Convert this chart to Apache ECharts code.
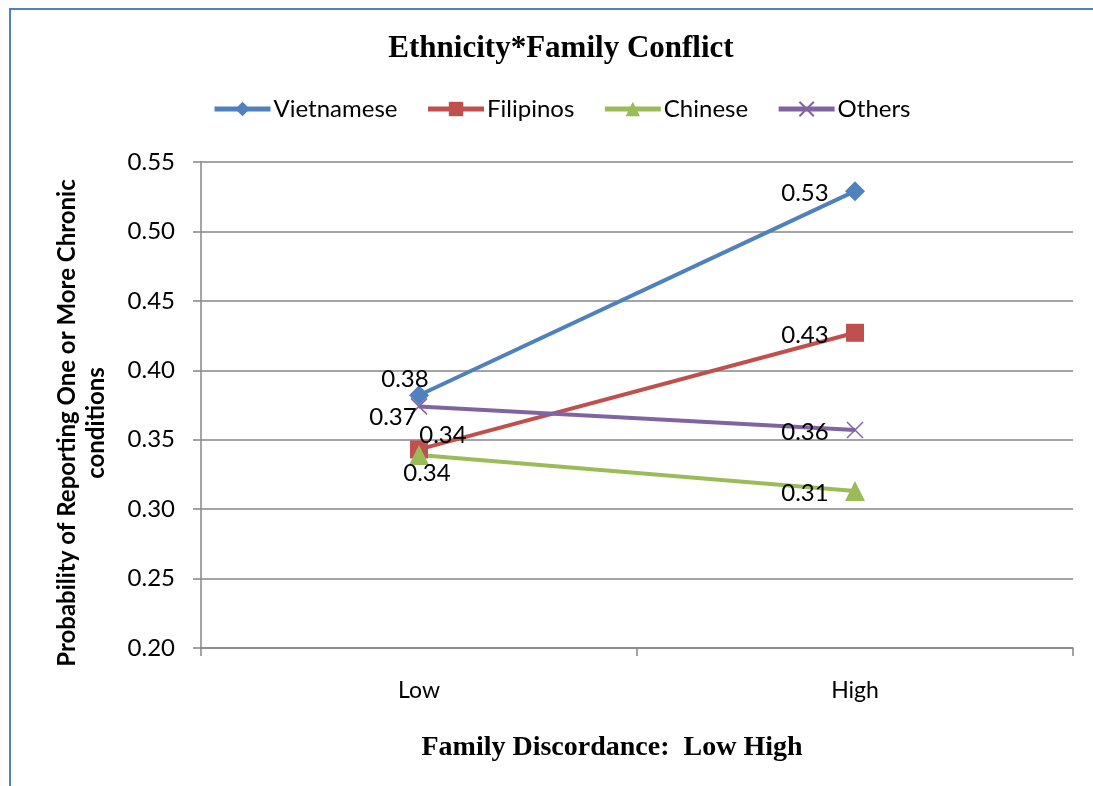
<!DOCTYPE html>
<html>
<head>
<meta charset="utf-8">
<script src="https://cdn.jsdelivr.net/npm/echarts@6/dist/echarts.min.js"></script>
<style>
  html, body { margin: 0; padding: 0; background: #fff; }
  #frame { position: absolute; left: 9px; top: 8px; width: 1200px; height: 900px; border-left: 2px solid #4F81BD; border-top: 2px solid #4F81BD; }
  #chart { position: absolute; left: 0; top: 0; width: 1093px; height: 786px; }
</style>
</head>
<body>
<div id="frame"></div>
<div id="chart"></div>
<script>
// Categories and series values
const categories = ['Low', 'High'];
const vietnamese = [0.382, 0.529];
const filipinos  = [0.343, 0.427];
const chinese    = [0.339, 0.313];
const others     = [0.374, 0.357];
const yTicks = { min: 0.20, max: 0.55, interval: 0.05 };

// Label offsets (px) from each point, per series
const labelOffsets = {
  Vietnamese: [[-14, -16], [-50, 2]],
  Filipinos:  [[24, -14],  [-50, 2]],
  Chinese:    [[8, 18],    [-50, 2]],
  Others:     [[-26, 11],  [-50, 2]]
};

const font = 'Lato, "Open Sans", sans-serif';

function pts(name, vals) {
  return vals.map((v, i) => ({
    value: v,
    label: { offset: labelOffsets[name][i] }
  }));
}

function series(name, vals, color, symbol, size, extra) {
  return Object.assign({
    name: name,
    type: 'line',
    data: pts(name, vals),
    symbol: symbol,
    symbolSize: size,
    lineStyle: { color: color, width: 4 },
    itemStyle: { color: color },
    label: {
      show: true,
      position: 'inside',
      color: '#000',
      fontFamily: font,
      fontSize: 24,
      formatter: p => p.value.toFixed(2)
    },
    z: 3
  }, extra || {});
}

const chart = echarts.init(document.getElementById('chart'));
chart.setOption({
  animation: false,
  title: [
    {
      text: 'Ethnicity*Family Conflict',
      left: 556, top: 28, textAlign: 'center',
      textStyle: { fontFamily: '"Liberation Serif", serif', fontWeight: 'bold', fontSize: 31, color: '#000' }
    },
    {
      text: 'Family Discordance:  Low High',
      left: 607, top: 729, textAlign: 'center',
      textStyle: { fontFamily: '"Liberation Serif", serif', fontWeight: 'bold', fontSize: 28, color: '#000' }
    }
  ],
  legend: {
    left: 207, top: 92,
    itemWidth: 56, itemHeight: 18, itemGap: 28,
    lineStyle: { width: 5 },
    textStyle: { fontFamily: font, fontSize: 24, color: '#000', padding: [0, 0, 0, -2] },
    data: ['Vietnamese', 'Filipinos', 'Chinese', 'Others']
  },
  grid: { left: 201, right: 20, top: 162, bottom: 138, containLabel: false },
  xAxis: {
    type: 'category',
    data: categories,
    boundaryGap: true,
    axisLine: { lineStyle: { color: '#868686', width: 1.5 } },
    axisTick: { show: true, length: 8, lineStyle: { color: '#868686', width: 1.5 } },
    axisLabel: { color: '#000', fontFamily: font, fontSize: 23, margin: 31 }
  },
  yAxis: {
    type: 'value',
    min: yTicks.min, max: yTicks.max, interval: yTicks.interval,
    name: 'Probability of Reporting One or More Chronic\nconditions',
    nameLocation: 'middle',
    nameGap: 90,
    nameTextStyle: { fontFamily: font, fontWeight: 'bold', fontSize: 24, color: '#000', lineHeight: 29, padding: [0, 36, 0, 0] },
    axisLine: { show: true, lineStyle: { color: '#868686', width: 1.5 } },
    axisTick: { show: true, length: 8, lineStyle: { color: '#868686', width: 1.5 } },
    splitLine: { lineStyle: { color: '#868686', width: 1.5 } },
    axisLabel: { color: '#000', fontFamily: font, fontSize: 24, margin: 26, formatter: v => v.toFixed(2) }
  },
  series: [
    series('Vietnamese', vietnamese, '#4F81BD', 'diamond', 20),
    series('Filipinos', filipinos, '#C0504D', 'rect', 18),
    series('Chinese', chinese, '#9BBB59', 'triangle', 20),
    series('Others', others, '#8064A2', 'path://M0,0L10,10M10,0L0,10', 16, {
      itemStyle: { color: 'transparent', borderColor: '#8064A2', borderWidth: 1.5 }
    })
  ]
});
</script>
</body>
</html>
